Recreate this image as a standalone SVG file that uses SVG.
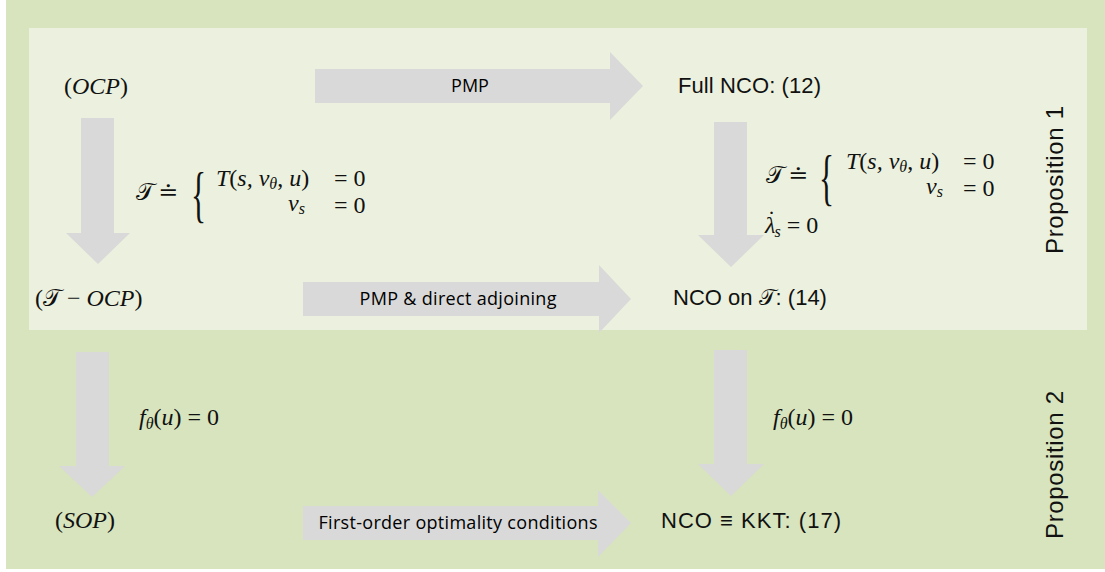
<svg xmlns="http://www.w3.org/2000/svg" width="1105" height="572" viewBox="0 0 1105 572">
<style>
.arrow{fill:#d9d9d9}
.lbl{font-family:"Open Sans","Liberation Sans",sans-serif;font-size:18px;fill:#000}
.sans{font-family:"Liberation Sans","DejaVu Sans",sans-serif;font-size:22px;fill:#111}
.math{font-family:"Liberation Serif","DejaVu Serif",serif;font-size:24px;fill:#111}
.it{font-style:italic}
.sub{font-size:16px}
.prop{font-family:"Liberation Sans","DejaVu Sans",sans-serif;font-size:24px;fill:#111}
</style>
<rect x="6" y="0" width="1099" height="569" fill="#d7e4bd"/>
<rect x="29" y="28" width="1058" height="302" fill="#ebf1de"/>

<g id="connectors">
  <g id="c-pmp">
    <polygon class="arrow" points="315,69 610,69 610,52 643,86 610,120 610,103 315,103"/>
    <text class="lbl" x="470" y="92" text-anchor="middle">PMP</text>
  </g>
  <g id="c-pmp-direct">
    <polygon class="arrow" points="303,282 599,282 599,265 631,299 599,333 599,316 303,316"/>
    <text class="lbl" x="458" y="305" text-anchor="middle" textLength="197">PMP &amp; direct adjoining</text>
  </g>
  <g id="c-first-order">
    <polygon class="arrow" points="303,506 598,506 598,490 631,523 598,557 598,540 303,540"/>
    <text class="lbl" x="458" y="529" text-anchor="middle" textLength="279">First-order optimality conditions</text>
  </g>
  <g id="c-left-top">
    <polygon class="arrow" points="81,118 114,118 114,233 130,233 98,264 66,233 81,233"/>
  </g>
  <g id="c-right-top">
    <polygon class="arrow" points="714,122 747,122 747,235 764,235 731,267 698,235 714,235"/>
  </g>
  <g id="c-left-bottom">
    <polygon class="arrow" points="76,352 109,352 109,466 125,466 92,497 59,466 76,466"/>
  </g>
  <g id="c-right-bottom">
    <polygon class="arrow" points="714,350 747,350 747,464 764,464 731,496 698,464 714,464"/>
  </g>
</g>

<g id="node-ocp">
  <text class="math" x="64" y="94">(<tspan class="it">OCP</tspan>)</text>
</g>
<g id="node-full-nco">
  <text class="sans" x="678" y="93" textLength="143">Full NCO: (12)</text>
</g>
<g id="node-t-ocp">
  <text class="math" x="35" y="306">(𝒯 − <tspan class="it">OCP</tspan>)</text>
</g>
<g id="node-nco-t">
  <text class="sans" x="673" y="305">NCO on <tspan class="math" style="font-size:22px">𝒯</tspan>: (14)</text>
</g>
<g id="node-sop">
  <text class="math" x="55" y="528">(<tspan class="it">SOP</tspan>)</text>
</g>
<g id="node-nco-kkt">
  <text class="sans" x="661" y="528" textLength="180">NCO ≡ KKT: (17)</text>
</g>

<g id="label-left-T">
  <text class="math" x="136" y="200">𝒯</text>
  <text class="math" x="158" y="200">≐</text>
  <text class="math" transform="translate(191,215) scale(0.75,1.45)" style="font-size:42px">{</text>
  <text class="math" x="216" y="186"><tspan class="it">T</tspan>(<tspan class="it">s, v</tspan><tspan class="sub it" dy="3">θ</tspan><tspan dy="-3">, </tspan><tspan class="it">u</tspan>)</text>
  <text class="math" x="334" y="186">= 0</text>
  <text class="math" x="288" y="211"><tspan class="it">v</tspan><tspan class="sub it" dy="3">s</tspan></text>
  <text class="math" x="334" y="213">= 0</text>
</g>
<g id="label-right-T">
  <text class="math" x="766" y="183">𝒯</text>
  <text class="math" x="788" y="183">≐</text>
  <text class="math" transform="translate(819,198) scale(0.75,1.45)" style="font-size:42px">{</text>
  <text class="math" x="846" y="169"><tspan class="it">T</tspan>(<tspan class="it">s, v</tspan><tspan class="sub it" dy="3">θ</tspan><tspan dy="-3">, </tspan><tspan class="it">u</tspan>)</text>
  <text class="math" x="963" y="169">= 0</text>
  <text class="math" x="926" y="194"><tspan class="it">v</tspan><tspan class="sub it" dy="3">s</tspan></text>
  <text class="math" x="963" y="196">= 0</text>
  <text class="math" x="765" y="233"><tspan class="it">λ</tspan><tspan dx="-8" dy="-6">˙</tspan><tspan class="sub it" dx="-1" dy="10">s</tspan><tspan dy="-4"> = 0</tspan></text>
</g>
<g id="label-left-f">
  <text class="math" x="139" y="425"><tspan class="it">f</tspan><tspan class="sub it" dy="4">θ</tspan><tspan dy="-4">(</tspan><tspan class="it">u</tspan>) = 0</text>
</g>
<g id="label-right-f">
  <text class="math" x="773" y="425"><tspan class="it">f</tspan><tspan class="sub it" dy="4">θ</tspan><tspan dy="-4">(</tspan><tspan class="it">u</tspan>) = 0</text>
</g>

<g id="prop1">
  <text class="prop" transform="translate(1063,180) rotate(-90)" text-anchor="middle" textLength="148">Proposition 1</text>
</g>
<g id="prop2">
  <text class="prop" transform="translate(1063,465) rotate(-90)" text-anchor="middle" textLength="148">Proposition 2</text>
</g>
</svg>
